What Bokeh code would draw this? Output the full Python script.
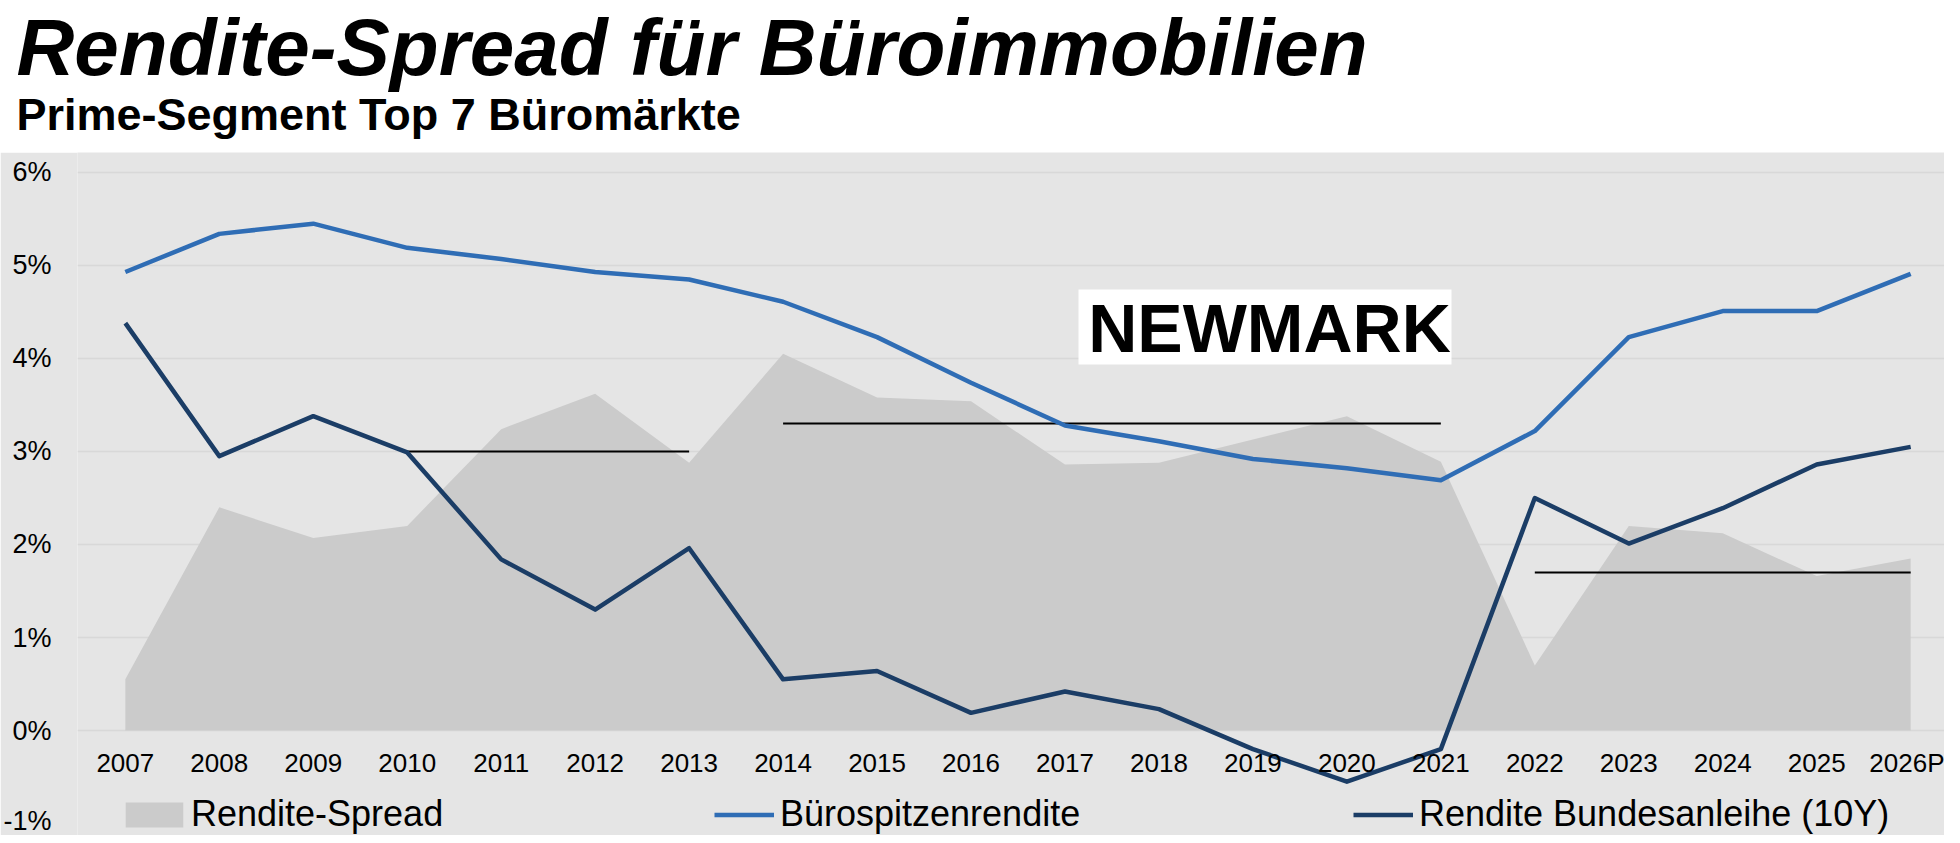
from bokeh.plotting import figure
from bokeh.layouts import column
from bokeh.models import (Range1d, FixedTicker, Label, BoxAnnotation, Legend,
                          LegendItem, Segment, ColumnDataSource, Title)
from bokeh.embed import file_html
from bokeh.resources import INLINE

# data (percent)
years = [2007, 2008, 2009, 2010, 2011, 2012, 2013, 2014, 2015, 2016,
         2017, 2018, 2019, 2020, 2021, 2022, 2023, 2024, 2025, 2026]
year_labels = ["2007", "2008", "2009", "2010", "2011", "2012", "2013", "2014",
               "2015", "2016", "2017", "2018", "2019", "2020", "2021", "2022",
               "2023", "2024", "2025", "2026P"]
buero = [4.93, 5.34, 5.45, 5.19, 5.07, 4.93, 4.85, 4.61, 4.23, 3.74,
         3.28, 3.11, 2.92, 2.82, 2.69, 3.22, 4.23, 4.51, 4.51, 4.91]
bund = [4.38, 2.95, 3.38, 2.99, 1.84, 1.30, 1.96, 0.55, 0.64, 0.19,
        0.42, 0.23, -0.20, -0.55, -0.20, 2.50, 2.01, 2.39, 2.86, 3.05]
spread = [0.55, 2.40, 2.07, 2.20, 3.24, 3.62, 2.88, 4.05, 3.58, 3.54,
          2.86, 2.88, 3.13, 3.38, 2.89, 0.70, 2.20, 2.12, 1.66, 1.85]

# average spread per period (thin black lines)
avg_start = [2010, 2014, 2022]
avg_end = [2013, 2021, 2026]
avg_value = [3.0, 3.3, 1.7]

y_ticks = [-1, 0, 1, 2, 3, 4, 5, 6]
y_tick_labels = ["-1%", "0%", "1%", "2%", "3%", "4%", "5%", "6%"]

FONT = "Liberation Sans"
BG = "#e5e5e5"
AREA = "#cbcbcb"
BLUE = "#2f6db5"
NAVY = "#1b3d66"

# --- title block (white) ---
# its frame is lined up with the chart frame (70px in), so titles use a
# negative offset to start at the page's left edge
t = figure(width=1944, height=152, output_backend="svg", toolbar_location=None,
           x_axis_type=None, y_axis_type=None, min_border=0,
           min_border_left=70, x_range=(0, 1), y_range=(0, 1))
t.outline_line_color = None
t.grid.visible = False
t.background_fill_color = "white"
t.border_fill_color = "white"
t.title.visible = False
# first one added sits closest to the frame
t.add_layout(Title(text="Prime-Segment Top 7 Büromärkte", align="left",
                   offset=-61, standoff=-10, text_font=FONT,
                   text_font_size="45px", text_font_style="bold",
                   text_color="black"), "above")
t.add_layout(Title(text="Rendite-Spread für Büroimmobilien", align="left",
                   offset=-61, standoff=0, text_font=FONT,
                   text_font_size="80px", text_font_style="bold italic",
                   text_color="black"), "above")

# --- chart ---
p = figure(width=1944, height=683, output_backend="svg", toolbar_location=None,
           x_range=Range1d(2006.491, 2026.36), y_range=Range1d(-1.129, 6.215),
           min_border_left=70, min_border_right=0, min_border_top=0,
           min_border_bottom=0)
p.background_fill_color = BG
p.border_fill_color = BG
p.outline_line_color = None

p.xgrid.visible = False
p.ygrid.ticker = FixedTicker(ticks=[v for v in y_ticks if v >= 0])
p.ygrid.grid_line_color = "#d8d8d8"
p.ygrid.grid_line_width = 1.5

yax = p.yaxis[0]
yax.ticker = FixedTicker(ticks=y_ticks)
yax.major_label_overrides = dict(zip(y_ticks, y_tick_labels))
yax.axis_line_color = None
yax.major_tick_line_color = None
yax.minor_tick_line_color = None
yax.major_label_standoff = 20
yax.major_label_text_font = FONT
yax.major_label_text_font_size = "27px"
yax.major_label_text_color = "black"

xax = p.xaxis[0]
xax.fixed_location = 0
xax.ticker = FixedTicker(ticks=years)
xax.major_label_overrides = dict(zip(years, year_labels))
xax.axis_line_color = None
xax.major_tick_line_color = None
xax.minor_tick_line_color = None
xax.major_label_standoff = 11
xax.major_label_text_font = FONT
xax.major_label_text_font_size = "26px"
xax.major_label_text_color = "black"

area = p.varea(x=years, y1=[0] * len(years), y2=spread, fill_color=AREA)

avg_src = ColumnDataSource(dict(x0=avg_start, x1=avg_end, y=avg_value))
p.add_glyph(avg_src, Segment(x0="x0", y0="y", x1="x1", y1="y",
                             line_color="black", line_width=2))

l_buero = p.line(years, buero, line_color=BLUE, line_width=4.5, line_join="round")
l_bund = p.line(years, bund, line_color=NAVY, line_width=4.5, line_join="round")

# logo
p.add_layout(BoxAnnotation(left=1001, right=1374, bottom=471, top=546,
                           left_units="screen", right_units="screen",
                           bottom_units="screen", top_units="screen",
                           fill_color="white", fill_alpha=1, line_color=None))
p.add_layout(Label(x=1192, y=508, x_units="screen", y_units="screen",
                   text="NEWMARK", text_font=FONT, text_font_size="68px",
                   text_font_style="bold", text_color="black",
                   text_align="center", text_baseline="middle"))

# legends, one per entry, spread like the original
def add_legend(label, renderer, x, gw, gh, standoff):
    leg = Legend(items=[LegendItem(label=label, renderers=[renderer])],
                 location=(x, 0), orientation="horizontal",
                 glyph_width=gw, glyph_height=gh, label_standoff=standoff,
                 padding=0, margin=0, spacing=0,
                 border_line_color=None, background_fill_alpha=0,
                 label_text_font=FONT, label_text_font_size="36px",
                 label_text_color="black")
    p.add_layout(leg)

add_legend("Rendite-Spread", area, 41, 72, 31, 1)
add_legend("Bürospitzenrendite", l_buero, 637, 60, 31, 6)
add_legend("Rendite Bundesanleihe (10Y)", l_bund, 1276, 60, 31, 6)

layout = column(t, p, spacing=0)
open("out.html", "w").write(file_html(layout, INLINE))
